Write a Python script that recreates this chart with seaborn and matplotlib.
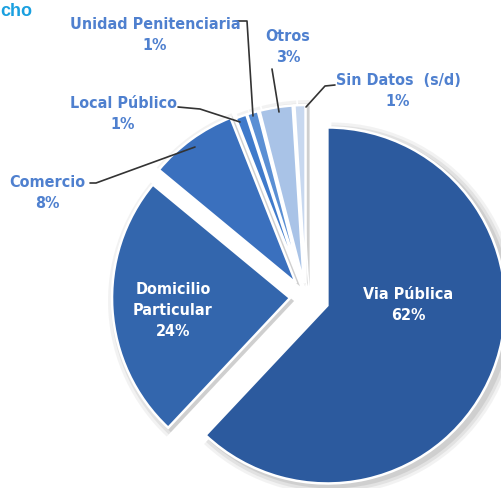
import matplotlib
matplotlib.use("Agg")
import matplotlib.pyplot as plt
import seaborn as sns

# Data
categories = ["Via Pública", "Domicilio Particular", "Comercio", "Local Público",
              "Unidad Penitenciaria", "Otros", "Sin Datos  (s/d)"]
shares = [62, 24, 8, 1, 1, 3, 1]
slice_colors = ["#2c5a9e", "#3366ad", "#3a70be", "#3f7acb", "#5a8fd4", "#a9c3e7", "#c8d8ef"]
explode_px = [23, 16, 17, 14, 14, 14, 14]

W, H = 501, 489

sns.set_theme(style="white")
plt.rcParams["font.family"] = ["DejaVu Sans"]
plt.rcParams["font.stretch"] = "condensed"

fig = plt.figure(figsize=(W / 100, H / 100), dpi=100)
ax = fig.add_axes([0, 0, 1, 1])


def py(y):
    # pixel row -> data y
    return H - y


cx, cy, rad = 306, 298, 178

# soft shadow under the pie
for grow, alpha in [(8, 0.12), (5, 0.18), (2, 0.25)]:
    ax.pie(shares, colors=["#9a9a9a"] * len(shares), startangle=90, counterclock=False,
           explode=explode_px, radius=rad + grow, center=(cx + 4, py(cy + 3)),
           wedgeprops={"linewidth": 0, "alpha": alpha})

ax.pie(shares, colors=slice_colors, startangle=90, counterclock=False,
       explode=explode_px, radius=rad, center=(cx, py(cy)),
       wedgeprops={"edgecolor": "white", "linewidth": 1.8})

ax.set_xlim(0, W)
ax.set_ylim(0, H)
ax.axis("off")

lab_color = "#4f80cf"
fs = 11.5

outside = [
    ("Unidad Penitenciaria\n1%", 155, 35),
    ("Otros\n3%", 288, 47),
    ("Sin Datos  (s/d)\n1%", 398, 91),
    ("Local Público\n1%", 123, 114),
    ("Comercio\n8%", 47, 193),
]
for txt, x, y in outside:
    ax.text(x, py(y), txt, ha="center", va="center", color=lab_color,
            fontsize=fs, fontweight="bold", linespacing=1.5)

ax.text(173, py(311), "Domicilio\nParticular\n24%", ha="center", va="center",
        color="white", fontsize=fs, fontweight="bold", linespacing=1.5)
ax.text(408, py(305), "Via Pública\n62%", ha="center", va="center",
        color="white", fontsize=fs, fontweight="bold", linespacing=1.5)

# leader lines
leaders = [
    [(236, 22), (247, 22), (253, 117)],
    [(272, 70), (279, 113)],
    [(335, 86), (325, 87), (306, 108)],
    [(178, 108), (200, 110), (240, 123)],
    [(90, 184), (96, 184), (195, 148)],
]
for pts in leaders:
    ax.plot([p[0] for p in pts], [py(p[1]) for p in pts], color="#333333", lw=1.2)

fig.text(0.0, 1 - 12 / H, "cho", ha="left", va="center", color="#1aa0e0",
         fontsize=13, fontweight="bold", family=["Liberation Sans", "DejaVu Sans"],
         fontstretch="normal")

plt.savefig("out.png", dpi=100)
